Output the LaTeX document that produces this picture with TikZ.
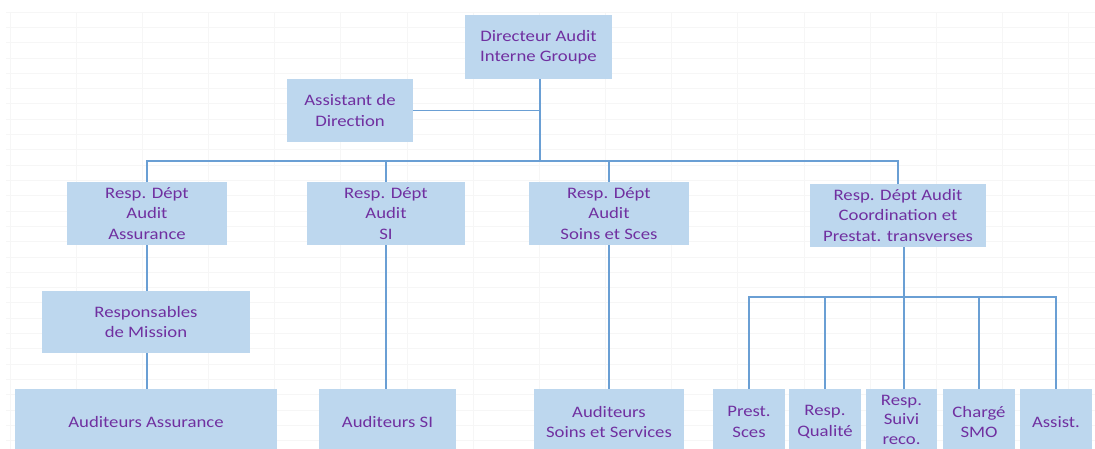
\documentclass[tikz,border=0pt]{standalone}
\usepackage{fontspec}
\setmainfont{Carlito}[FakeStretch=1.17]
\definecolor{boxfill}{HTML}{BDD7EE}
\definecolor{txt}{HTML}{7030A0}
\definecolor{wire}{HTML}{6A9FD4}
\definecolor{cellgrid}{HTML}{F6F6F6}
\begin{document}
\begin{tikzpicture}[x=1pt,y=-1pt,
  unit/.style={fill=boxfill, draw=none, text=txt, align=center, inner sep=0pt,
    font=\fontsize{16}{20.5}\selectfont, minimum height=63},
  small/.style={unit, minimum width=72, minimum height=66},
  link/.style={draw=wire, line width=1.3pt}]
\useasboundingbox (0,0) rectangle (1095,449);
\clip (0,0) rectangle (1095,449);
% spreadsheet cell grid behind the chart
\foreach \gx in {0,...,16} \draw[cellgrid, line width=0.6pt] (10+66.15*\gx,12) -- (10+66.15*\gx,449);
\foreach \gy in {0,...,28} \draw[cellgrid, line width=0.6pt] (6,12+15.3*\gy) -- (1095,12+15.3*\gy);

% top level
\node[unit, minimum width=147, minimum height=64] (dir) at (538.5,47) {Directeur Audit\\Interne Groupe};
\node[unit, minimum width=126] (asst) at (350,110.5) {Assistant de\\Direction};

% departments
\node[unit, minimum width=160] (r1) at (147,213.5) {Resp. Dépt\\Audit\\Assurance};
\node[unit, minimum width=158] (r2) at (386,213.5) {Resp. Dépt\\Audit\\SI};
\node[unit, minimum width=160] (r3) at (609,213.5) {Resp. Dépt\\Audit\\Soins et Sces};
\node[unit, minimum width=176] (r4) at (898,215.5) {Resp. Dépt Audit\\Coordination et\\Prestat. transverses};

% second and third levels
\node[unit, minimum width=208, minimum height=62] (rm) at (146,322) {Responsables\\de Mission};
\node[unit, minimum width=262, minimum height=66] (aa) at (146,422) {Auditeurs Assurance};
\node[unit, minimum width=137, minimum height=66] (as) at (387.5,422) {Auditeurs SI};
\node[unit, minimum width=150, minimum height=66] (ass) at (609,422) {Auditeurs\\Soins et Services};

\node[small] (s1) at (749,422) {Prest.\\Sces};
\node[small] (s2) at (825,422) {Resp.\\Qualité};
\node[small, minimum width=71] (s3) at (901.5,422) {};
\node[text=txt, align=center, inner sep=0pt, font=\fontsize{16}{19.5}\selectfont]
  (s3txt) at ([yshift=2.5pt]s3.center) {Resp.\\Suivi\\reco.};
\node[small] (s4) at (979,422) {Chargé\\SMO};
\node[small] (s5) at (1056,422) {Assist.};

% connectors
\coordinate (bus) at (540,161);
\coordinate (sbus) at (904,297);
\draw[link] ([xshift=1.5]dir.south) -- ([xshift=1.5]dir.south |- bus);
\draw[link] (asst.east) -- (asst.east -| bus);
\draw[link] (r1.north) |- (bus) -| (r4.north);
\draw[link] (r2.north) -- (r2.north |- bus);
\draw[link] (r3.north) -- (r3.north |- bus);
\draw[link] (r1.south) -- (r1.south |- rm.north);
\draw[link] (rm.south -| r1.south) -- (aa.north -| r1.south);
\draw[link] (r2.south) -- (as.north -| r2.south);
\draw[link] (r3.south) -- (ass.north);
\draw[link] (r4.south -| sbus) -- (sbus);
\draw[link] (s1.north) |- (sbus) -| (s5.north);
\draw[link] (s2.north) -- (s2.north |- sbus);
\draw[link] (s3.north -| sbus) -- (sbus);
\draw[link] (s4.north) -- (s4.north |- sbus);
\end{tikzpicture}
\end{document}
